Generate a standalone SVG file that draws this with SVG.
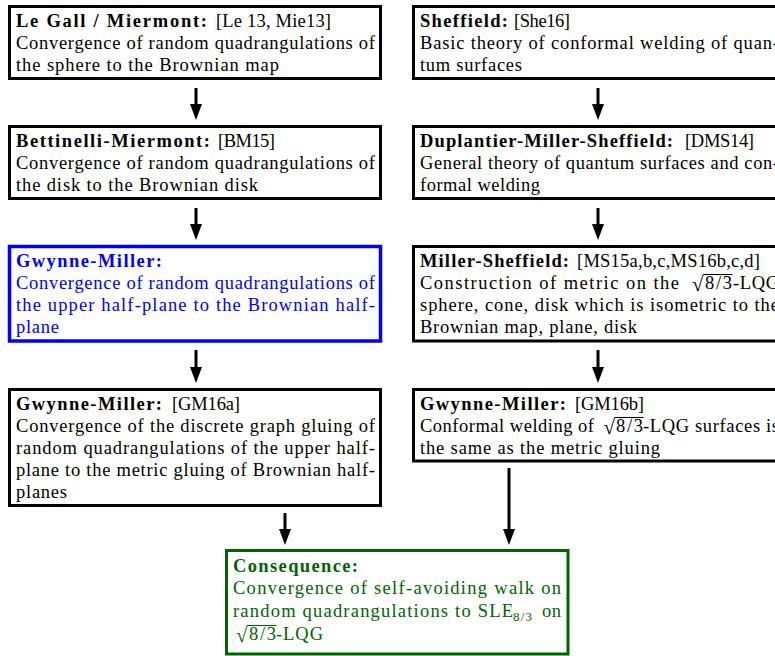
<svg xmlns="http://www.w3.org/2000/svg" width="775" height="656" viewBox="0 0 775 656">
<style>
.t{font-size:18.5px;fill:#000}
.b{font-weight:bold}
.blue{fill:#0000ff}
.green{fill:#006400}
.box{fill:#fff;stroke:#000;stroke-width:3}
.bbox{fill:#fff;stroke:#0000ff;stroke-width:3.5}
.gbox{fill:#fff;stroke:#006400;stroke-width:3}
.rad{font-size:21px}
.vin{stroke-width:1.1}
.sub{font-size:13px}
.arr{stroke:#000;stroke-width:3;fill:none;marker-end:url(#ah)}
</style>
<defs>
<marker id="ah" markerUnits="userSpaceOnUse" markerWidth="16" markerHeight="12" viewBox="0 0 16 12" refX="8" refY="6" orient="auto">
<path d="M0,0 L16,6 L0,12 Z" fill="#000"/>
</marker>
</defs>
<rect width="775" height="656" fill="#fff"/>
<g id="connectors">
<line class="arr" x1="196" y1="88" x2="196" y2="112"/>
<line class="arr" x1="196" y1="208" x2="196" y2="232"/>
<line class="arr" x1="196" y1="350" x2="196" y2="375"/>
<line class="arr" x1="598" y1="88" x2="598" y2="112"/>
<line class="arr" x1="598" y1="208" x2="598" y2="232"/>
<line class="arr" x1="598" y1="350" x2="598" y2="375"/>
<line class="arr" x1="285" y1="513" x2="285" y2="537"/>
<line class="arr" x1="509" y1="468" x2="509" y2="537"/>
</g>
<g id="legall" font-family="Liberation Serif" font-size="18.5">
<rect class="box" x="9.5" y="6.5" width="371" height="72"/>
<text class="t b" x="16" y="27" textLength="191" lengthAdjust="spacing">Le Gall / Miermont:</text>
<text class="t" x="216" y="27" textLength="115" lengthAdjust="spacing">[Le 13, Mie13]</text>
<text class="t" x="16" y="49" textLength="359" lengthAdjust="spacing">Convergence of random quadrangulations of</text>
<text class="t" x="16" y="71" textLength="263" lengthAdjust="spacing">the sphere to the Brownian map</text>
</g>
<g id="bettinelli" font-family="Liberation Serif" font-size="18.5">
<rect class="box" x="9.5" y="126.5" width="371" height="72"/>
<text class="t b" x="16" y="147" textLength="194" lengthAdjust="spacing">Bettinelli-Miermont:</text>
<text class="t" x="218" y="147" textLength="57" lengthAdjust="spacing">[BM15]</text>
<text class="t" x="16" y="169" textLength="359" lengthAdjust="spacing">Convergence of random quadrangulations of</text>
<text class="t" x="16" y="191" textLength="242" lengthAdjust="spacing">the disk to the Brownian disk</text>
</g>
<g id="gm-half" font-family="Liberation Serif" font-size="18.5">
<rect class="bbox" x="9.5" y="246.5" width="371" height="94.5"/>
<text class="t b blue" x="16" y="267" textLength="146" lengthAdjust="spacing">Gwynne-Miller:</text>
<text class="t blue" x="16" y="289" textLength="359" lengthAdjust="spacing">Convergence of random quadrangulations of</text>
<text class="t blue" x="16" y="311" textLength="359" lengthAdjust="spacing">the upper half-plane to the Brownian half-</text>
<text class="t blue" x="16" y="333" textLength="43" lengthAdjust="spacing">plane</text>
</g>
<g id="gm16a" font-family="Liberation Serif" font-size="18.5">
<rect class="box" x="9.5" y="389.5" width="371" height="116"/>
<text class="t b" x="16" y="410" textLength="146" lengthAdjust="spacing">Gwynne-Miller:</text>
<text class="t" x="172" y="410" textLength="68" lengthAdjust="spacing">[GM16a]</text>
<text class="t" x="16" y="432" textLength="359" lengthAdjust="spacing">Convergence of the discrete graph gluing of</text>
<text class="t" x="16" y="454" textLength="359" lengthAdjust="spacing">random quadrangulations of the upper half-</text>
<text class="t" x="16" y="476" textLength="359" lengthAdjust="spacing">plane to the metric gluing of Brownian half-</text>
<text class="t" x="16" y="498" textLength="51" lengthAdjust="spacing">planes</text>
</g>
<g id="sheffield" font-family="Liberation Serif" font-size="18.5">
<rect class="box" x="413.5" y="6.5" width="371" height="72"/>
<text class="t b" x="420" y="27" textLength="88" lengthAdjust="spacing">Sheffield:</text>
<text class="t" x="514" y="27" textLength="56" lengthAdjust="spacing">[She16]</text>
<text class="t" x="420" y="49" textLength="359" lengthAdjust="spacing">Basic theory of conformal welding of quan-</text>
<text class="t" x="420" y="71" textLength="102" lengthAdjust="spacing">tum surfaces</text>
</g>
<g id="dms" font-family="Liberation Serif" font-size="18.5">
<rect class="box" x="413.5" y="126.5" width="371" height="72"/>
<text class="t b" x="420" y="147" textLength="253" lengthAdjust="spacing">Duplantier-Miller-Sheffield:</text>
<text class="t" x="685" y="147" textLength="69" lengthAdjust="spacing">[DMS14]</text>
<text class="t" x="420" y="169" textLength="359" lengthAdjust="spacing">General theory of quantum surfaces and con-</text>
<text class="t" x="420" y="191" textLength="120" lengthAdjust="spacing">formal welding</text>
</g>
<g id="ms" font-family="Liberation Serif" font-size="18.5">
<rect class="box" x="413.5" y="246.5" width="371" height="94.5"/>
<text class="t b" x="420" y="267" textLength="149" lengthAdjust="spacing">Miller-Sheffield:</text>
<text class="t" x="577" y="267" textLength="183" lengthAdjust="spacing">[MS15a,b,c,MS16b,c,d]</text>
<text class="t" x="420" y="289" textLength="259" lengthAdjust="spacing">Construction of metric on the</text>
<text class="t rad" x="692" y="291">√</text>
<line class="vin" x1="703" y1="274.5" x2="732.5" y2="274.5" stroke="#000"/>
<text class="t" x="705" y="289" textLength="27" lengthAdjust="spacing">8/3</text>
<text class="t" x="733" y="289" textLength="46" lengthAdjust="spacing">-LQG</text>
<text class="t" x="420" y="311" textLength="359" lengthAdjust="spacing">sphere, cone, disk which is isometric to the</text>
<text class="t" x="420" y="333" textLength="217" lengthAdjust="spacing">Brownian map, plane, disk</text>
</g>
<g id="gm16b" font-family="Liberation Serif" font-size="18.5">
<rect class="box" x="413.5" y="389.5" width="371" height="71.5"/>
<text class="t b" x="420" y="410" textLength="146" lengthAdjust="spacing">Gwynne-Miller:</text>
<text class="t" x="575" y="410" textLength="69" lengthAdjust="spacing">[GM16b]</text>
<text class="t" x="420" y="432" textLength="174" lengthAdjust="spacing">Conformal welding of</text>
<text class="t rad" x="603.5" y="434">√</text>
<line class="vin" x1="614.5" y1="417.5" x2="643.5" y2="417.5" stroke="#000"/>
<text class="t" x="616" y="432" textLength="27" lengthAdjust="spacing">8/3</text>
<text class="t" x="643" y="432" textLength="136" lengthAdjust="spacing">-LQG surfaces is</text>
<text class="t" x="420" y="454" textLength="240" lengthAdjust="spacing">the same as the metric gluing</text>
</g>
<g id="consequence" font-family="Liberation Serif" font-size="18.5">
<rect class="gbox" x="226.5" y="550.5" width="341.5" height="103.5"/>
<text class="t b green" x="233" y="572" textLength="125" lengthAdjust="spacing">Consequence:</text>
<text class="t green" x="233" y="594" textLength="328" lengthAdjust="spacing">Convergence of self-avoiding walk on</text>
<text class="t green" x="233" y="617" textLength="280" lengthAdjust="spacing">random quadrangulations to SLE</text>
<text class="t green sub" x="513" y="621" textLength="19" lengthAdjust="spacing">8/3</text>
<text class="t green" x="542" y="617" textLength="19" lengthAdjust="spacing">on</text>
<text class="t green rad" x="236" y="642">√</text>
<line class="vin" x1="247" y1="625.5" x2="276.5" y2="625.5" stroke="#006400"/>
<text class="t green" x="249" y="640" textLength="27" lengthAdjust="spacing">8/3</text>
<text class="t green" x="276" y="640" textLength="47" lengthAdjust="spacing">-LQG</text>
</g>
</svg>
